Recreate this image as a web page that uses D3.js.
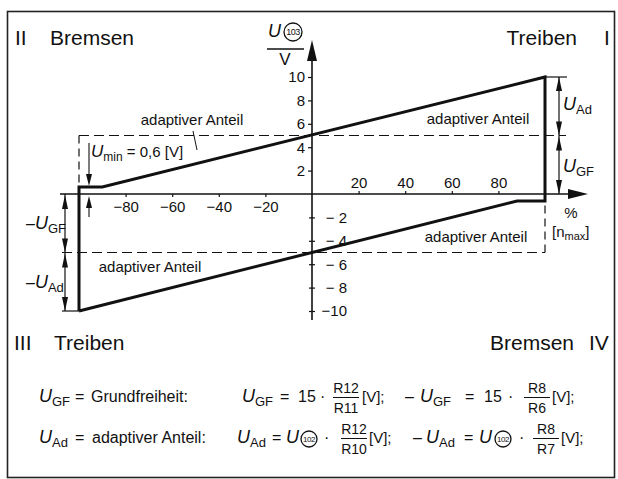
<!DOCTYPE html>
<html lang="de">
<head>
  <meta charset="UTF-8">
  <script src="https://cdn.jsdelivr.net/npm/d3@7"></script>
  <title>U103 Kennlinie</title>
  <style>
    body { margin: 0; background: #fff; }
    svg { font-family: "Liberation Sans", Arial, sans-serif; fill: #111; }
  </style>
</head>
<body>
  <svg width="618" height="479" id="chart"></svg>
  <script>
    // Kennlinie: Drehzahl in % von n_max und Spannung U103 in V
    const kurveProzent = [-100, -100, -90, 100, 100, 88, -100];
    const kurveSpannung = [-10, 0.6, 0.6, 10, -0.6, -0.6, -10];
    const uGF = 5;      // Grundfreiheit
    const uAd = 5;      // adaptiver Anteil
    const uMin = 0.6;
    const xTicksPos = [20, 40, 60, 80];
    const xTicksNeg = [-80, -60, -40, -20];
    const yTicksPos = [2, 4, 6, 8, 10];
    const yTicksNeg = [-2, -4, -6, -8, -10];

    let svg = d3.select("#chart");

    //frame
    svg.append("rect")
      .attr("x", 7.5).attr("y", 11.5).attr("width", 607).attr("height", 466)
      .attr("fill", "none").attr("stroke", "#222").attr("stroke-width", 1.6);

    /* SCALES */
    let x = d3.scaleLinear().domain([-100, 100]).range([79, 545]);
    let y = d3.scaleLinear().domain([-10, 10]).range([311, 77]);
    let x0 = x(0), y0 = y(0);

    function arrow(tx, ty, dir, len, hw) {
      // filled arrow head with tip at (tx,ty); dir: "up","down","right"
      let p;
      if (dir == "up") p = [[tx, ty], [tx - hw, ty + len], [tx + hw, ty + len]];
      else if (dir == "down") p = [[tx, ty], [tx - hw, ty - len], [tx + hw, ty - len]];
      else p = [[tx, ty], [tx - len, ty - hw], [tx - len, ty + hw]];
      svg.append("path").attr("d", d3.line()(p) + "Z").attr("fill", "#111");
    }
    function line(x1, y1, x2, y2, w, dash) {
      let l = svg.append("line").attr("x1", x1).attr("y1", y1).attr("x2", x2).attr("y2", y2)
        .attr("stroke", "#111").attr("stroke-width", w);
      if (dash) l.attr("stroke-dasharray", dash);
      return l;
    }

    /* DASHED HELPER LINES */
    line(x(-100), y(uGF), 566, y(uGF), 1.2, "10,5");
    line(x(-100), y(uGF), x(-100), y(uMin), 1.2, "8,5");
    line(62, y(-uGF), x(100), y(-uGF), 1.2, "10,5");
    line(x(100), y(-uGF), x(100), y(-uMin), 1.2, "8,5");

    /* AXES */
    line(60, y0, 572, y0, 1.6);
    arrow(588, y0, "right", 20, 5);
    line(x0, 320, x0, 58, 1.6);
    arrow(x0, 40, "up", 21, 5);

    let fmtNeg = d => "\u2212" + (Math.abs(d) < 10 ? " " : "") + Math.abs(d);

    let axTop = svg.append("g").attr("transform", `translate(0,${y0})`)
      .call(d3.axisTop(x).tickValues(xTicksPos).tickSize(3).tickPadding(3));
    let axBot = svg.append("g").attr("transform", `translate(0,${y0})`)
      .call(d3.axisBottom(x).tickValues(xTicksNeg).tickSize(3).tickPadding(4)
        .tickFormat(d => "\u2212" + Math.abs(d)));
    let axLeft = svg.append("g").attr("transform", `translate(${x0},0)`)
      .call(d3.axisLeft(y).tickValues(yTicksPos).tickSize(4).tickPadding(3));
    let axRight = svg.append("g").attr("transform", `translate(${x0},0)`)
      .call(d3.axisRight(y).tickValues(yTicksNeg).tickSize(3).tickPadding(3).tickFormat(fmtNeg));
    axRight.selectAll(".tick line").attr("x1", -3);
    axRight.selectAll("text").attr("text-anchor", "end").attr("x", 35);

    [axTop, axBot, axLeft, axRight].forEach(g => {
      g.select(".domain").remove();
      g.attr("font-size", 15).attr("font-family", null);
      g.selectAll(".tick line").attr("stroke", "#111").attr("stroke-width", 1.2);
      g.selectAll("text").attr("fill", "#111");
    });

    /* CURVE */
    let pts = kurveProzent.map((p, i) => [x(p), y(kurveSpannung[i])]);
    svg.append("path")
      .attr("d", d3.line()(pts))
      .attr("fill", "none").attr("stroke", "#111")
      .attr("stroke-width", 3).attr("stroke-linejoin", "miter");

    /* DIMENSIONS right */
    line(x(100), y(10), 567, y(10), 1.2);
    let dxR = 559;
    line(dxR, y(10), dxR, y0, 1.2);
    arrow(dxR, y(10), "up", 14, 3);
    arrow(dxR, y(uGF), "down", 14, 3);
    arrow(dxR, y(uGF) + 1, "up", 14, 3);
    arrow(dxR, y0, "down", 14, 3);

    /* DIMENSIONS left */
    line(62, y(-10), x(-100), y(-10), 1.2);
    let dxL = 65;
    line(dxL, y0, dxL, y(-10), 1.2);
    arrow(dxL, y0 + 1, "up", 14, 3);
    arrow(dxL, y(-uGF), "down", 14, 3);
    arrow(dxL, y(-uGF) + 1, "up", 14, 3);
    arrow(dxL, y(-10), "down", 14, 3);

    /* U_min arrows */
    line(89, 143, 89, y(uMin) - 8, 1.1);
    arrow(89, y(uMin) - 1, "down", 12, 3);
    line(89, 217, 89, y0 + 10, 1.1);
    arrow(89, y0 + 2, "up", 12, 3);

    // leader line
    line(193, 131, 197, 150, 1);

    /* TEXT */
    function txt(s, tx, ty, size, anchor) {
      return svg.append("text").attr("x", tx).attr("y", ty)
        .attr("font-size", size).attr("text-anchor", anchor || "start").text(s);
    }
    // symbol with italic U and subscript
    function usym(tx, ty, sub, pre, post, size, anchor) {
      let t = svg.append("text").attr("x", tx).attr("y", ty)
        .attr("font-size", size).attr("text-anchor", anchor || "start");
      if (pre) t.append("tspan").text(pre);
      t.append("tspan").attr("font-style", "italic").attr("font-size", size + 2).text("U");
      t.append("tspan").attr("font-size", size - 3).attr("dy", 4).text(sub);
      if (post) t.append("tspan").attr("dy", -4).text(post);
      return t;
    }
    function circleNum(cx, cy, r, s, size) {
      svg.append("circle").attr("cx", cx).attr("cy", cy).attr("r", r)
        .attr("fill", "none").attr("stroke", "#111").attr("stroke-width", 1.3);
      txt(s, cx, cy + size * 0.36, size, "middle").attr("letter-spacing", -0.5);
    }
    function frac(cx, base, num, den) {
      txt(num, cx, base - 9, 14, "middle");
      line(cx - 13, base - 4.5, cx + 13, base - 4.5, 1);
      txt(den, cx, base + 11, 14, "middle");
    }

    // quadrants
    txt("II", 15, 45, 21);
    txt("Bremsen", 50, 45, 21);
    txt("Treiben", 577, 45, 21, "end");
    txt("I", 604, 45, 21);
    txt("III", 14, 350, 21);
    txt("Treiben", 54, 350, 21);
    txt("Bremsen", 574, 350, 21, "end");
    txt("IV", 589, 350, 21);

    // y axis title
    svg.append("text").attr("x", 268).attr("y", 37).attr("font-size", 18)
      .attr("font-style", "italic").text("U");
    circleNum(293, 32, 9, "103", 9);
    line(267, 49, 304, 49, 1.3);
    txt("V", 285, 65, 17, "middle");

    // x axis unit
    txt("%", 571, 218, 15, "middle");
    let nm = svg.append("text").attr("x", 552).attr("y", 237).attr("font-size", 15);
    nm.append("tspan").text("[n");
    nm.append("tspan").attr("font-size", 11).attr("dy", 3).text("max");
    nm.append("tspan").attr("dy", -3).text("]");

    // labels adaptiver Anteil
    txt("adaptiver Anteil", 192, 125, 15, "middle");
    txt("adaptiver Anteil", 478, 124, 15, "middle");
    txt("adaptiver Anteil", 476, 242, 15, "middle");
    txt("adaptiver Anteil", 150, 272, 15, "middle");

    usym(91, 157, "min", null, " = 0,6 [V]", 15);
    usym(563, 110, "Ad", null, null, 16);
    usym(563, 172, "GF", null, null, 16);
    usym(26, 229, "GF", "\u2013", null, 16);
    usym(26, 288, "Ad", "\u2013", null, 16);

    /* FORMULAS */
    let r1 = 402, r2 = 443;
    function uOnly(tx, ty) {
      svg.append("text").attr("x", tx).attr("y", ty).attr("font-size", 18)
        .attr("font-style", "italic").text("U");
    }
    // Zeile 1
    usym(39, r1, "GF", null, null, 16);
    txt("=", 75, r1, 16);
    txt("Grundfreiheit:", 91, r1, 16);
    usym(242, r1, "GF", null, null, 16);
    txt("=", 280, r1, 16);
    txt("15", 298, r1, 16);
    txt("\u00b7", 320, r1, 16);
    frac(346, r1, "R12", "R11");
    txt("[V];", 362, r1, 15);
    txt("\u2013", 405, r1, 16);
    usym(420, r1, "GF", null, null, 16);
    txt("=", 465, r1, 16);
    txt("15", 484, r1, 16);
    txt("\u00b7", 508, r1, 16);
    frac(537, r1, "R8", "R6");
    txt("[V];", 552, r1, 15);

    // Zeile 2
    usym(39, r2, "Ad", null, null, 16);
    txt("=", 75, r2, 16);
    txt("adaptiver Anteil:", 92, r2, 16);
    usym(237, r2, "Ad", null, null, 16);
    txt("=", 272, r2, 16);
    uOnly(286, r2);
    circleNum(309, r2 - 4, 8, "102", 8);
    txt("\u00b7", 324, r2, 16);
    frac(354, r2, "R12", "R10");
    txt("[V];", 369, r2, 15);
    txt("\u2013", 413, r2, 16);
    usym(426, r2, "Ad", null, null, 16);
    txt("=", 464, r2, 16);
    uOnly(479, r2);
    circleNum(503, r2 - 4, 8, "102", 8);
    txt("\u00b7", 519, r2, 16);
    frac(546, r2, "R8", "R7");
    txt("[V];", 561, r2, 15);
  </script>
</body>
</html>
